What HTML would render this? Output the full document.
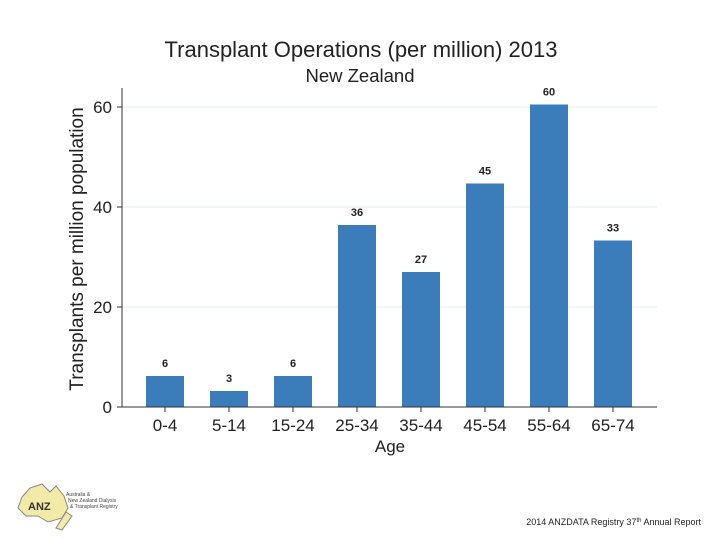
<!DOCTYPE html>
<html><head><meta charset="utf-8"><style>
body{margin:0;background:#fff;font-family:"Liberation Sans",sans-serif}
#c{position:relative;width:720px;height:540px;overflow:hidden}
</style></head><body>
<div id="c">
<svg id="s" width="720" height="540">
<text x="361" y="57" font-size="22" text-anchor="middle" fill="#222">Transplant Operations (per million) 2013</text>
<text x="360" y="82" font-size="18.5" text-anchor="middle" fill="#222">New Zealand</text>
<text transform="translate(83,249) rotate(-90)" font-size="19" text-anchor="middle" fill="#222">Transplants per million population</text>
<text x="390" y="452" font-size="17" text-anchor="middle" fill="#222">Age</text>
<g id="grid"></g><g id="bars"></g>
<line x1="122" y1="88" x2="122" y2="407" stroke="#333" stroke-width="1"/>
<line x1="122" y1="407" x2="657" y2="407" stroke="#333" stroke-width="1"/>
<g>
<path d="M22 497 L30 488 L42 484 L50 492 L56 486 L64 496 L68 508 L62 518 L48 522 L38 516 L26 516 L18 508 Z" fill="#f2eba8" stroke="#888"/>
<path d="M66 512 L72 516 L62 530 L56 528 Z" fill="#f2eba8" stroke="#888"/>
<text x="28" y="510" font-size="11" font-weight="bold" fill="#333">ANZ</text>
<text x="66" y="496" font-size="5" fill="#444">Australia &amp;</text>
<text x="68" y="502" font-size="5" fill="#444">New Zealand Dialysis</text>
<text x="70" y="508" font-size="5" fill="#444">&amp; Transplant Registry</text>
</g>
<text x="701" y="525" font-size="9" text-anchor="end" fill="#222">2014 ANZDATA Registry 37<tspan font-size="6" dy="-3">th</tspan><tspan dy="3"> Annual Report</tspan></text>
</svg>
</div>
<script>
const categories=["0-4","5-14","15-24","25-34","35-44","45-54","55-64","65-74"];
const values=[6.2,3.2,6.2,36.4,27,44.7,60.5,33.3];
const valueLabels=["6","3","6","36","27","45","60","33"];
const yTicks=[0,20,40,60];
const NS="http://www.w3.org/2000/svg";
const y=v=>407-v*5;
const x=i=>165+i*64;
function mk(t,a,p){const e=document.createElementNS(NS,t);for(const k in a)e.setAttribute(k,a[k]);p.appendChild(e);return e;}
const g=document.getElementById('grid'),b=document.getElementById('bars');
yTicks.forEach(t=>{
 if(t>0){const l=mk('line',{x1:122,x2:657,y1:y(t),y2:y(t),stroke:'#e6ecef','stroke-width':1},g);
 
 }
 const k=mk('line',{x1:117,x2:122,y1:y(t),y2:y(t),stroke:'#333'},g);
 
 
 const tx=mk('text',{x:112,y:y(t)+6,'font-size':17,'text-anchor':'end',fill:'#222'},g);tx.textContent=t;
 
 
});
categories.forEach((c,i)=>{
 const r=mk('rect',{x:x(i)-19,y:y(values[i]),width:38,height:407-y(values[i]),fill:'#3a7dba'},b);
 
 
 const v=mk('text',{x:x(i),y:y(values[i])-9,'font-size':11,'font-weight':'600','text-anchor':'middle',fill:'#222'},b);v.textContent=valueLabels[i];
 
 
 const k=mk('line',{x1:x(i),x2:x(i),y1:407,y2:412,stroke:'#333'},b);
 
 
 const t=mk('text',{x:x(i),y:431,'font-size':17,'text-anchor':'middle',fill:'#222'},b);t.textContent=c;
 
 
});
</script>
</body></html>
